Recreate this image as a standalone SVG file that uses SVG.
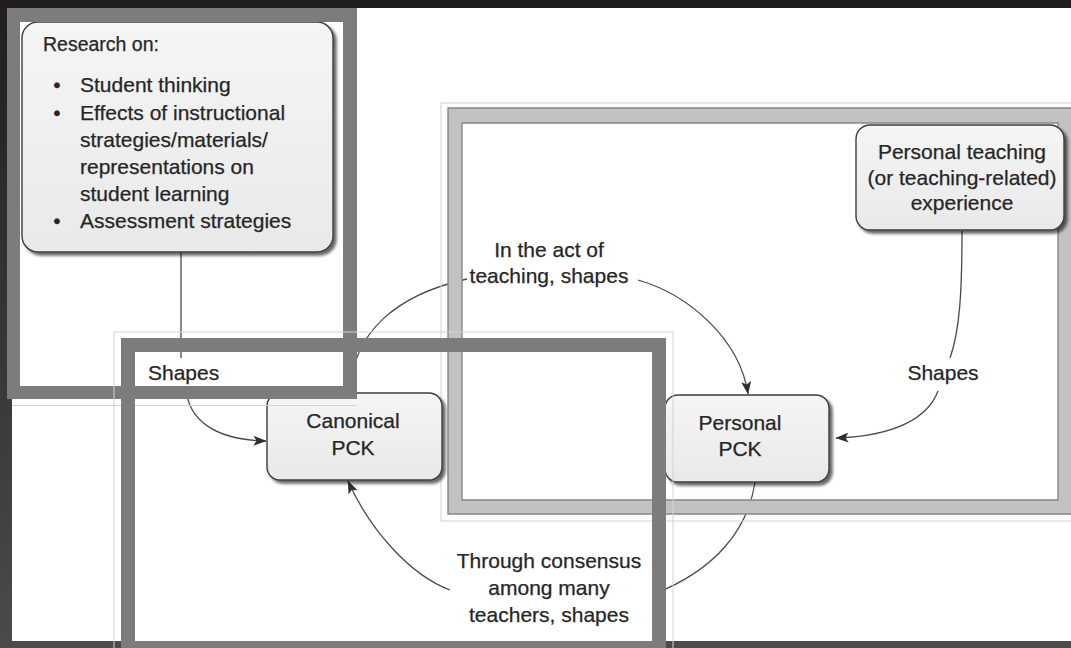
<svg xmlns="http://www.w3.org/2000/svg" width="1071" height="648" viewBox="0 0 1071 648">
  <defs>
    <style>
      .lbl { font-family: "Liberation Sans", Arial, Helvetica, sans-serif; font-size: 21px; fill: #262626; stroke: #262626; stroke-width: 0.25; }
      .mid { text-anchor: middle; }
      .box { fill: url(#boxFill); stroke: #3c3c3c; stroke-width: 1.4; filter: url(#shadow); }
      .conn { fill: none; stroke: #4a4a4a; stroke-width: 1.3; }
      .darkFrame { fill: #7b7b7b; fill-rule: evenodd; filter: url(#soft); }
      .lightFrame { fill: #c2c2c2; fill-rule: evenodd; stroke: #878787; stroke-width: 1.4; filter: url(#soft); }
      .halo { fill: none; stroke: #d2d2d2; stroke-width: 1; }
    </style>
    <linearGradient id="edgeBg" x1="0" y1="0" x2="0" y2="1">
      <stop offset="0" stop-color="#221e1f"/>
      <stop offset="1" stop-color="#4b4b4b"/>
    </linearGradient>
    <linearGradient id="boxFill" x1="0" y1="0" x2="0" y2="1">
      <stop offset="0" stop-color="#f5f5f5"/>
      <stop offset="1" stop-color="#e9e9e9"/>
    </linearGradient>
    <filter id="shadow" x="-10%" y="-10%" width="125%" height="130%">
      <feGaussianBlur in="SourceAlpha" stdDeviation="1.6"/>
      <feOffset dx="3" dy="3" result="off"/>
      <feComponentTransfer><feFuncA type="linear" slope="0.6"/></feComponentTransfer>
      <feMerge><feMergeNode/><feMergeNode in="SourceGraphic"/></feMerge>
    </filter>
    <filter id="soft" x="-5%" y="-5%" width="110%" height="110%">
      <feGaussianBlur stdDeviation="0.6"/>
    </filter>
    <marker id="arrow" viewBox="0 0 13 10" refX="12.5" refY="5" markerWidth="13" markerHeight="10" markerUnits="userSpaceOnUse" orient="auto">
      <path d="M0,0 L13,5 L0,10 L3,5 z" fill="#2e2e2e"/>
    </marker>
  </defs>

  <!-- dark page edges and white sheet -->
  <rect x="0" y="0" width="1071" height="648" fill="url(#edgeBg)"/>
  <rect x="12" y="8" width="1059" height="633" fill="#ffffff"/>

  <!-- connectors (drawn beneath frames and boxes) -->
  <g id="connectors">
    <path class="conn" d="M181,252 V358"/>
    <path class="conn" d="M186,388 C188,420 215,440 266,441" marker-end="url(#arrow)"/>
    <path class="conn" d="M350,398 C350,330 400,294 467,279"/>
    <path class="conn" d="M638,280 C690,295 740,340 748,394" marker-end="url(#arrow)"/>
    <path class="conn" d="M962,231 C962,290 960,330 950,358"/>
    <path class="conn" d="M938,391 C928,418 895,436 836,438" marker-end="url(#arrow)"/>
    <path class="conn" d="M755,482 C748,530 715,570 654,594"/>
    <path class="conn" d="M450,590 C410,575 370,530 348,481" marker-end="url(#arrow)"/>
  </g>

  <!-- light frame around the personal experience area -->
  <g id="frame-personal">
    <rect class="halo" x="441" y="103" width="640" height="418"/>
    <path class="lightFrame" d="M448,108 H1080 V514 H448 Z M462,123 V500 H1058 V123 Z"/>
  </g>

  <!-- nodes -->
  <g id="node-research">
    <rect class="box" x="22" y="22" width="311" height="230" rx="16"/>
    <text class="lbl" x="43" y="51" style="font-size:19.5px">Research on:</text>
    <text class="lbl mid" x="57" y="92">•</text>
    <text class="lbl" x="80" y="92">Student thinking</text>
    <text class="lbl mid" x="57" y="120">•</text>
    <text class="lbl" x="80" y="120">Effects of instructional</text>
    <text class="lbl" x="80" y="147">strategies/materials/</text>
    <text class="lbl" x="80" y="174">representations on</text>
    <text class="lbl" x="80" y="201">student learning</text>
    <text class="lbl mid" x="57" y="228">•</text>
    <text class="lbl" x="80" y="228">Assessment strategies</text>
  </g>

  <g id="node-experience">
    <rect class="box" x="856" y="125" width="208" height="105" rx="14"/>
    <text class="lbl mid" x="962" y="159">Personal teaching</text>
    <text class="lbl mid" x="962" y="184.5">(or teaching-related)</text>
    <text class="lbl mid" x="962" y="210">experience</text>
  </g>

  <g id="node-canonical">
    <rect class="box" x="267" y="393" width="175" height="87" rx="13"/>
    <text class="lbl mid" x="353" y="428">Canonical</text>
    <text class="lbl mid" x="353" y="455">PCK</text>
  </g>

  <g id="node-personal">
    <rect class="box" x="665" y="395" width="164" height="87" rx="13"/>
    <text class="lbl mid" x="740" y="430">Personal</text>
    <text class="lbl mid" x="740" y="456">PCK</text>
  </g>

  <!-- connector labels -->
  <g id="connector-labels">
    <text class="lbl" x="148" y="380">Shapes</text>
    <text class="lbl mid" x="549" y="257">In the act of</text>
    <text class="lbl mid" x="549" y="283">teaching, shapes</text>
    <text class="lbl mid" x="943" y="380">Shapes</text>
    <text class="lbl mid" x="549" y="568">Through consensus</text>
    <text class="lbl mid" x="549" y="595">among many</text>
    <text class="lbl mid" x="549" y="622">teachers, shapes</text>
  </g>

  <!-- dark frames around the research area and the canonical area -->
  <g id="frame-research">
    <line class="halo" x1="12" y1="405.5" x2="357" y2="405.5"/>
    <path class="darkFrame" d="M7,8 H357 V399 H7 Z M20,22 V386 H343 V22 Z"/>
  </g>
  <g id="frame-canonical">
    <rect class="halo" x="114" y="332" width="559" height="330"/>
    <path class="darkFrame" d="M121,338 H666 V660 H121 Z M135,352 V641 H652 V352 Z"/>
  </g>
</svg>
